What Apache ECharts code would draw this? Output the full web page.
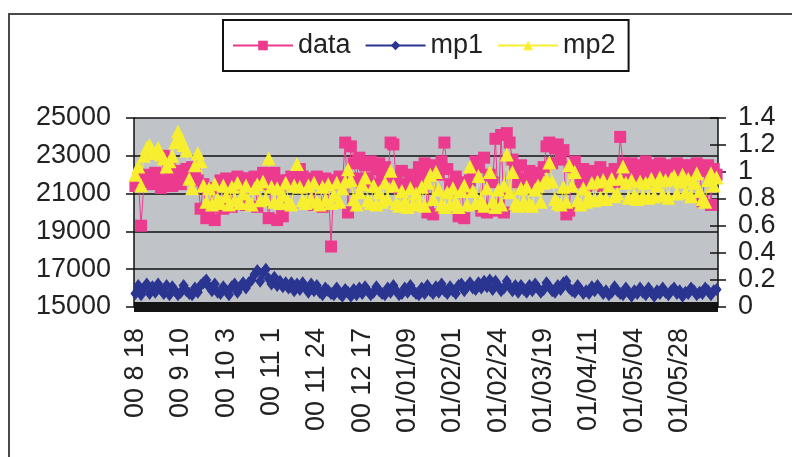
<!DOCTYPE html>
<html>
<head>
<meta charset="utf-8">
<script src="https://cdn.jsdelivr.net/npm/echarts@6/dist/echarts.min.js"></script>
<style>
  html, body { margin: 0; padding: 0; background: #ffffff; }
  #frame { position: absolute; left: 8px; top: 13px; width: 800px; height: 460px;
           border-left: 2px solid #4a4a4a; border-top: 2px solid #4a4a4a; }
  #chart { position: absolute; left: 0; top: 0; width: 792px; height: 457px; }
</style>
</head>
<body>
<div id="frame"></div>
<div id="chart"></div>
<script>
// Tick labels shown every 16 points on the category axis
const tickLabels = ['00 8 18', '00 9 10', '00 10 3', '00 11 1', '00 11 24', '00 12 17',
  '01/01/09', '01/02/01', '01/02/24', '01/03/19', '01/04/11', '01/05/04', '01/05/28'];
const labelStep = 16;

// series "data" (left axis)
const dataValues = [
  21400, 21800, 19300, 21600, 22000, 21900, 21500, 22100, 21600, 21300,
  23000, 21700, 22300, 21400, 21800, 22200, 21500, 21900, 22300, 21900,
  22400, 22000, 21700, 20200, 21500, 19700, 20100, 21300, 19600, 20300,
  21700, 20200, 21800, 21500, 20300, 21700, 21900, 21500, 21800, 20400,
  21800, 21600, 21900, 20300, 21700, 22100, 21500, 19700, 21800, 22100,
  19600, 21700, 19800, 21600, 21700, 21900, 21500, 21800, 22300, 21900,
  21600, 21800, 21700, 20400, 21900, 21600, 20300, 21800, 21700, 18200,
  21700, 21500, 21900, 21600, 23700, 20000, 23500, 22600, 21800, 22900,
  21600, 22500, 21800, 22700, 21500, 22300, 22600, 21700, 22400, 21900,
  23700, 23600, 21700, 21300, 22200, 21500, 21300, 22000, 21400, 21800,
  22400, 21900, 22600, 20000, 22300, 19900, 22500, 22000, 22700, 23700,
  22300, 21500, 21300, 21900, 19800, 21600, 19700, 21300, 21700, 22000,
  22700, 22400, 20100, 22900, 20000, 22000, 21600, 23900, 20100, 24100,
  20000, 24200, 23700, 22800, 22300, 21600, 22500, 21800, 21400, 22200,
  21700, 21500, 22100, 21700, 22400, 23500, 23700, 22600, 23400, 23600,
  22800, 23300, 19900, 20100, 22400, 22700, 22100, 21600, 22300, 21400,
  22000, 22200, 21500, 21900, 22400, 21400, 22100, 21600, 22000, 22300,
  21600, 24000, 22600, 22300, 22000, 22600, 22100, 22500, 21900, 22300,
  22700, 22100, 22500, 22000, 22400, 22600, 22100, 21900, 22500, 22300,
  22000, 22600, 22100, 22500, 22300, 21900, 22500, 22100, 22600, 22300,
  20600, 22200, 22500, 20400, 22300, 22000
];

// series "mp1" (right axis)
const mp1Values = [
  0.10, 0.16, 0.09, 0.14, 0.17, 0.10, 0.15, 0.11, 0.17, 0.13,
  0.10, 0.16, 0.09, 0.15, 0.12, 0.09, 0.11, 0.16, 0.12, 0.10,
  0.09, 0.14, 0.11, 0.16, 0.18, 0.20, 0.15, 0.12, 0.17, 0.11,
  0.10, 0.15, 0.12, 0.09, 0.15, 0.17, 0.11, 0.15, 0.18, 0.14,
  0.18, 0.20, 0.24, 0.27, 0.19, 0.25, 0.28, 0.21, 0.17, 0.22,
  0.16, 0.19, 0.15, 0.18, 0.14, 0.18, 0.12, 0.17, 0.13, 0.18,
  0.14, 0.11, 0.17, 0.12, 0.16, 0.11, 0.09, 0.14, 0.12, 0.10,
  0.09, 0.14, 0.10, 0.08, 0.13, 0.11, 0.08, 0.13, 0.09, 0.14,
  0.10, 0.15, 0.12, 0.09, 0.11, 0.15, 0.12, 0.10, 0.09, 0.14,
  0.11, 0.16, 0.12, 0.09, 0.10, 0.14, 0.11, 0.16, 0.12, 0.10,
  0.09, 0.14, 0.10, 0.16, 0.12, 0.10, 0.15, 0.11, 0.17, 0.12,
  0.10, 0.15, 0.12, 0.10, 0.16, 0.17, 0.12, 0.15, 0.18, 0.14,
  0.13, 0.18, 0.14, 0.19, 0.15, 0.20, 0.13, 0.19, 0.16, 0.12,
  0.14, 0.19, 0.15, 0.12, 0.16, 0.11, 0.16, 0.13, 0.11, 0.16,
  0.12, 0.17, 0.14, 0.11, 0.13, 0.18, 0.15, 0.12, 0.11, 0.16,
  0.13, 0.18, 0.19, 0.14, 0.12, 0.11, 0.16, 0.13, 0.10, 0.12,
  0.10, 0.15, 0.12, 0.16, 0.13, 0.10, 0.12, 0.09, 0.11, 0.15,
  0.12, 0.10, 0.09, 0.14, 0.11, 0.08, 0.12, 0.10, 0.14, 0.11,
  0.09, 0.14, 0.11, 0.08, 0.12, 0.10, 0.14, 0.11, 0.09, 0.12,
  0.14, 0.10, 0.12, 0.08, 0.11, 0.10, 0.14, 0.12, 0.09, 0.11,
  0.10, 0.14, 0.12, 0.09, 0.12, 0.13
];

// series "mp2" (right axis)
const mp2Values = [
  0.98, 1.04, 0.90, 1.12, 1.18, 1.20, 1.16, 1.14, 1.18, 1.13,
  1.10, 1.04, 1.08, 1.12, 1.22, 1.30, 1.25, 1.20, 1.16, 0.95,
  0.88, 1.05, 1.14, 1.08, 0.90, 0.78, 0.88, 0.76, 0.91, 0.80,
  0.77, 0.90, 0.82, 0.76, 0.89, 0.79, 0.92, 0.77, 0.84, 0.90,
  0.78, 0.76, 0.88, 0.91, 0.79, 0.93, 0.80, 1.10, 0.89, 0.78,
  0.88, 0.77, 0.83, 0.92, 0.78, 0.76, 0.90, 1.06, 0.89, 0.79,
  0.77, 0.90, 0.80, 0.92, 0.78, 0.76, 0.89, 0.79, 0.91, 0.77,
  0.83, 0.92, 0.78, 0.88, 0.93, 1.02, 0.94, 0.80, 0.76, 0.85,
  0.91, 0.96, 0.79, 0.77, 0.90, 0.76, 0.85, 0.78, 0.92, 0.80,
  1.01, 0.90, 0.77, 0.75, 0.86, 0.78, 0.74, 0.88, 0.76, 0.84,
  0.77, 0.89, 0.75, 0.92, 0.98, 0.80, 1.00, 0.87, 0.76, 0.74,
  0.85, 0.76, 0.88, 0.78, 0.74, 0.86, 0.90, 0.76, 1.04, 0.86,
  0.77, 0.97, 0.79, 0.75, 0.88, 1.00, 0.78, 0.74, 0.87, 0.76,
  0.90, 1.13, 0.85, 1.00, 0.77, 0.75, 0.88, 0.78, 0.89, 0.76,
  0.75, 0.87, 0.90, 0.78, 0.92, 0.95, 1.07, 0.93, 0.80, 0.77,
  0.76, 0.89, 0.78, 1.05, 0.90, 1.00, 0.79, 0.76, 0.88, 0.78,
  0.82, 0.92, 0.79, 0.93, 0.81, 0.94, 0.80, 0.90, 0.95, 0.82,
  0.84, 0.95, 1.04, 0.92, 0.81, 0.94, 0.83, 0.80, 0.93, 0.82,
  0.92, 0.81, 0.95, 0.82, 0.90, 0.96, 0.83, 0.94, 0.81, 0.95,
  0.97, 0.84, 0.93, 0.98, 0.85, 0.95, 0.82, 0.92, 0.99, 0.86,
  0.80, 0.78, 0.94, 0.99, 0.90, 0.96
];

const leftTicks = { min: 15000, max: 25000, interval: 2000 };
const rightTicks = { min: 0, max: 1.4, interval: 0.2 };

const categories = dataValues.map((_, i) => String(i));

const FONT = "'Liberation Sans', Arial, sans-serif";
const TXT = '#222222';

const chart = echarts.init(document.getElementById('chart'), null, { renderer: 'canvas' });
chart.setOption({
  animation: false,
  backgroundColor: 'transparent',
  textStyle: { fontFamily: FONT },
  legend: {
    left: 223, top: 20,
    padding: [12, 13, 12, 9],
    itemWidth: 60, itemHeight: 12, itemGap: 14,
    borderColor: '#111111', borderWidth: 2,
    backgroundColor: '#ffffff',
    textStyle: { fontSize: 27, color: TXT, fontFamily: FONT },
    data: ['data', 'mp1', 'mp2']
  },
  grid: {
    left: 134, right: 74, top: 118, bottom: 150,
    show: true, backgroundColor: '#C0C3C7', borderWidth: 0
  },
  xAxis: {
    type: 'category',
    data: categories,
    boundaryGap: true,
    offset: 5,
    axisLine: { show: true, lineStyle: { color: '#141414', width: 10, cap: 'butt' } },
    axisTick: { show: false },
    splitLine: { show: false },
    axisLabel: {
      interval: labelStep - 1,
      rotate: 90,
      margin: 16,
      fontSize: 27,
      color: TXT,
      fontFamily: FONT,
      formatter: (v, idx) => (idx % labelStep === 0 ? (tickLabels[idx / labelStep] || '') : '')
    }
  },
  yAxis: [
    {
      type: 'value', position: 'left',
      min: leftTicks.min, max: leftTicks.max, interval: leftTicks.interval,
      axisLine: { show: true, lineStyle: { color: '#111111', width: 1.5 } },
      axisTick: { show: true, length: 8, lineStyle: { color: '#111111', width: 1.5 } },
      axisLabel: { fontSize: 27, color: TXT, margin: 23, fontFamily: FONT,
                   formatter: (v) => String(v) },
      splitLine: { show: true, lineStyle: { color: '#111111', width: 1.5 } }
    },
    {
      type: 'value', position: 'right',
      min: rightTicks.min, max: rightTicks.max, interval: rightTicks.interval,
      axisLine: { show: true, lineStyle: { color: '#111111', width: 1.5 } },
      axisTick: { show: true, length: 8, lineStyle: { color: '#111111', width: 1.5 } },
      axisLabel: { fontSize: 27, color: TXT, margin: 20, fontFamily: FONT,
                   formatter: (v) => String(Math.round(v * 10) / 10) },
      splitLine: { show: false }
    },
    {
      type: 'value', position: 'right',
      min: rightTicks.min, max: rightTicks.max, interval: rightTicks.interval,
      axisLine: { show: false },
      axisTick: { show: true, inside: true, length: 8, lineStyle: { color: '#111111', width: 1.5 } },
      axisLabel: { show: false },
      splitLine: { show: false }
    }
  ],
  series: [
    {
      name: 'data', type: 'line', yAxisIndex: 0,
      data: dataValues,
      showAllSymbol: true,
      symbol: 'rect', symbolSize: 12,
      lineStyle: { color: '#EC3A8E', width: 1 },
      itemStyle: { color: '#EC3A8E' }
    },
    {
      name: 'mp1', type: 'line', yAxisIndex: 1,
      data: mp1Values,
      showAllSymbol: true,
      symbol: 'diamond', symbolSize: [10, 13],
      lineStyle: { color: '#2A3591', width: 1 },
      itemStyle: { color: '#2A3591' }
    },
    {
      name: 'mp2', type: 'line', yAxisIndex: 1,
      data: mp2Values,
      showAllSymbol: true,
      symbol: 'triangle', symbolSize: 14,
      lineStyle: { color: '#F8EE30', width: 1 },
      itemStyle: { color: '#F8EE30' }
    }
  ]
});
</script>
</body>
</html>
